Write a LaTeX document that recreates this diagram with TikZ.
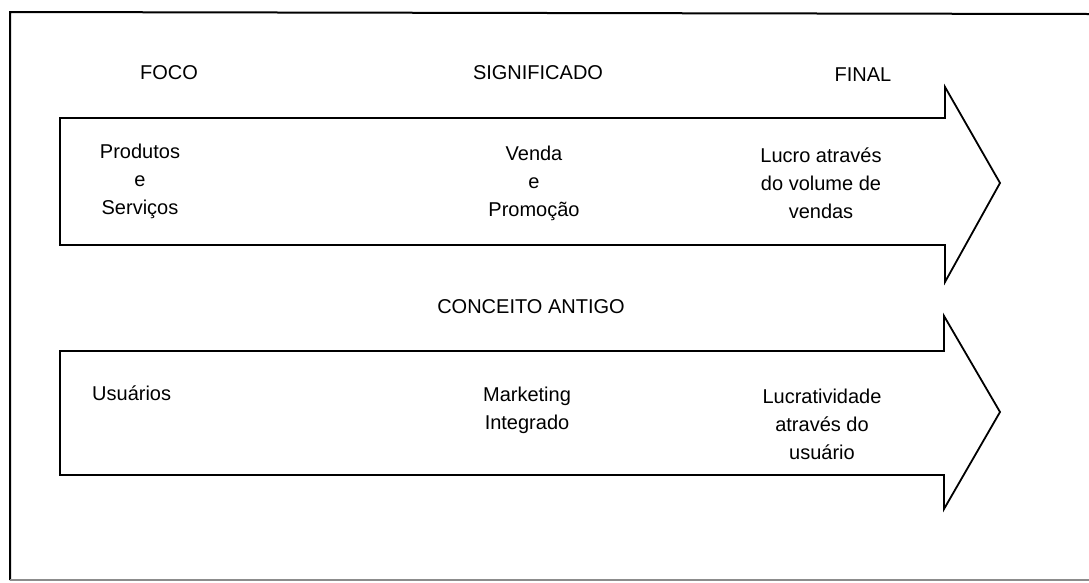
\documentclass[tikz,border=0pt]{standalone}
\usepackage{fontspec}
\setmainfont{Liberation Sans}
\begin{document}
\begin{tikzpicture}[x=1pt,y=-1pt,
  lbl/.style={font=\fontsize{20}{28}\selectfont, inner sep=0pt, align=center},
  bigarrow/.style={draw=black, line width=1.8pt, line join=miter},
  frame/.style={draw=black, line width=2pt}]
\useasboundingbox (0,0) rectangle (1089,582);
% outer frame (open on the right)
\coordinate (ftl) at (10,12);
\coordinate (ftr) at (1089,14);
\coordinate (fbl) at (10,580);
\coordinate (fbr) at (1089,580);
\draw[frame] (ftr) -- (ftl) -- (fbl);
\draw[draw=black!45, line width=1.5pt] (fbl) -- (fbr);
% arrows
\draw[bigarrow] (60,118) -- (945,118) -- (945,87) -- (1000,183) -- (945,282) -- (945,245) -- (60,245) -- cycle;
\draw[bigarrow] (60,351) -- (944,351) -- (944,316) -- (1000,412) -- (944,509) -- (944,475) -- (60,475) -- cycle;
% headers
\node[lbl] (foco) at (169,73) {FOCO};
\node[lbl] (sig) at (538,73) {SIGNIFICADO};
\node[lbl] (fin) at (863,75) {FINAL};
% first arrow texts
\node[lbl] (prod) at (140,181) {Produtos\\e\\Serviços};
\node[lbl] (venda) at (534,183) {Venda\\e\\Promoção};
\node[lbl] (lucro) at (821,183) {Lucro através\\do volume de\\vendas};
% middle label
\node[lbl] (antigo) at (531,307) {CONCEITO ANTIGO};
% second arrow texts
\node[lbl, anchor=west] (usu) at (92,393) {Usuários};
\node[lbl] (mkt) at (527,410) {Marketing\\Integrado};
\node[lbl] (lucrat) at (822,424) {Lucratividade\\através do\\usuário};
\end{tikzpicture}
\end{document}
